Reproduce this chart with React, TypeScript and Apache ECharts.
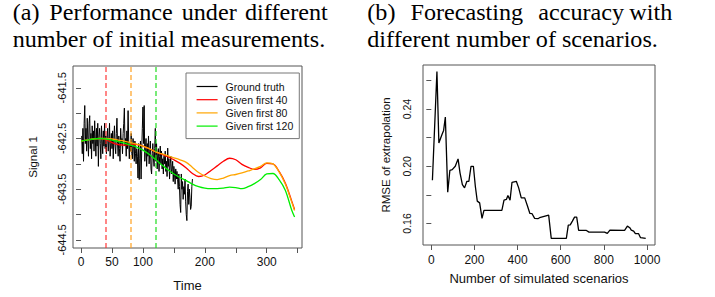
import React, { useEffect, useRef } from "react";
import * as echarts from "echarts";

const SANS = '"Liberation Sans", Arial, sans-serif';
const SERIF = '"Liberation Serif", "Times New Roman", serif';

// ---------- Panel (a) data ----------
const groundTruth = [
  -642.45, -642.8, -642.3, -642.95, -642.2, -641.85, -642.6, -642.3, -642.75, -642.1,
  -642.5, -642.85, -642.2, -642.05, -642.7, -642.4, -642.9, -642.25, -642.6, -642.35,
  -642.75, -642.15, -642.5, -642.85, -642.3, -642.65, -642.2, -643.05, -642.45, -642.3,
  -642.6, -642.9, -642.25, -642.55, -642.8, -642.35, -642.65, -642.2, -642.7, -642.45,
  -642.8, -642.5, -642.3, -642.75, -642.55, -642.2, -642.85, -642.6, -642.4, -642.7,
  -642.35, -642.9, -642.5, -642.25, -642.65, -642.8, -642.4, -642.1, -642.6, -642.85,
  -642.45, -642.7, -642.95, -642.3, -642.6, -642.5, -642.8, -642.4, -642.2, -641.9,
  -642.65, -642.5, -642.85, -642.35, -642.7, -641.95, -642.55, -642.9, -642.6, -642.75,
  -642.4, -642.8, -642.9, -642.5, -642.65, -642.95, -642.55, -642.8, -643.0, -642.7,
  -642.85, -643.28, -642.6, -643.31, -642.9, -642.55, -643.3, -642.75, -642.3, -641.88,
  -642.6, -641.85, -642.95, -642.7, -642.5, -643.05, -642.6, -642.85, -642.45, -643.0,
  -642.75, -642.55, -643.1, -643.2, -642.8, -642.6, -642.9, -643.05, -642.7, -642.3,
  -642.95, -642.6, -643.1, -642.8, -642.7, -643.15, -642.85, -642.65, -643.0, -642.75,
  -643.1, -642.9, -643.2, -642.85, -643.0, -642.75, -643.15, -642.95, -643.25, -642.69,
  -643.05, -642.9, -643.3, -643.0, -642.85, -643.2, -643.1, -642.95, -643.35, -643.05,
  -643.2, -643.4, -643.1, -643.3, -643.15, -643.31, -643.5, -643.2, -643.45, -643.8,
  -643.96, -643.2, -643.5, -643.35, -643.7, -643.45, -643.6, -643.3, -643.75, -644.0,
  -644.12, -643.55, -643.4, -643.8, -643.5, -643.67, -643.9, -643.84, -643.45, -643.3,
];

const forecastTimes = [
  0, 10, 20, 30, 40, 50, 60, 70, 80, 90, 100, 110, 120, 130, 140, 150, 160, 170,
  180, 190, 200, 210, 220, 230, 240, 250, 260, 270, 280, 290, 300, 310, 320, 330, 340, 345,
];
const given40 = [
  -642.55, -642.53, -642.51, -642.5, -642.52, -642.58, -642.62, -642.63, -642.62, -642.62,
  -642.65, -642.7, -642.76, -642.81, -642.86, -642.92, -642.99, -643.08, -643.19, -643.25,
  -643.22, -643.13, -643.04, -642.95, -642.89, -642.92, -643.01, -643.07, -643.11, -643.08,
  -642.99, -643.0, -643.15, -643.38, -643.72, -643.9,
];
const given80 = [
  -642.55, -642.53, -642.51, -642.5, -642.5, -642.51, -642.53, -642.55, -642.58, -642.61,
  -642.65, -642.7, -642.76, -642.8, -642.84, -642.88, -642.92, -642.97, -643.07, -643.17,
  -643.24, -643.29, -643.31, -643.28, -643.23, -643.21, -643.18, -643.14, -643.1, -643.05,
  -642.98, -643.0, -643.16, -643.4, -643.74, -643.92,
];
const given120 = [
  -642.55, -642.53, -642.51, -642.5, -642.51, -642.53, -642.56, -642.59, -642.63, -642.67,
  -642.73, -642.81, -642.91, -643.02, -643.11, -643.2, -643.27, -643.33, -643.4, -643.45,
  -643.48, -643.49, -643.49, -643.48, -643.46, -643.47, -643.49, -643.45, -643.39, -643.31,
  -643.2, -643.19, -643.31, -643.52, -643.9, -644.05,
];
const cutoffs = [40, 80, 120];
const seriesNames = ["Ground truth", "Given first 40", "Given first 80", "Given first 120"];
const timeTicks = [0, 50, 100, 150, 200, 250, 300, 350];
const timeLabels = [0, 50, 100, 200, 300];
const signalTicks = [-644.5, -644, -643.5, -643, -642.5, -642, -641.5];
const signalLabels = [-644.5, -643.5, -642.5, -641.5];

// ---------- Panel (b) data ----------
const scenarios = [
  5, 26, 35, 49, 57, 65, 76, 86, 97, 111, 124, 133, 144, 154, 165, 174, 184, 195, 204, 213,
  224, 235, 244, 327, 337, 348, 355, 365, 374, 394, 405, 417, 433, 445, 457, 467, 479, 494,
  502, 544, 556, 626, 635, 644, 654, 664, 674, 683, 719, 731, 803, 816, 828, 896, 909, 920,
  927, 938, 946, 961, 970, 994,
];
const rmse = [
  0.1902, 0.2663, 0.2163, 0.2221, 0.2251, 0.2345, 0.1819, 0.1972, 0.1977, 0.2, 0.2052,
  0.1954, 0.1872, 0.1849, 0.1895, 0.1895, 0.2, 0.2, 0.186, 0.1756, 0.1744, 0.1635, 0.1691,
  0.1691, 0.1763, 0.1768, 0.1795, 0.1763, 0.1888, 0.1895, 0.1849, 0.1779, 0.1779, 0.1726,
  0.167, 0.1668, 0.1635, 0.1633, 0.164, 0.1658, 0.1495, 0.1495, 0.1588, 0.159, 0.1616,
  0.1644, 0.1644, 0.1551, 0.1551, 0.1539, 0.1539, 0.153, 0.1553, 0.1551, 0.1581, 0.157,
  0.1553, 0.1546, 0.1528, 0.1528, 0.15, 0.1495,
];
const scenarioTicks = [0, 200, 400, 600, 800, 1000];
const rmseTicks = [0.16, 0.18, 0.2, 0.22, 0.24, 0.26];
const rmseLabels = [0.16, 0.2, 0.24];

const captionA = ["(a)", "Performance", "under", "different"];
const captionA2 = "number of initial measurements.";
const captionB = ["(b)", "Forecasting", "accuracy", "with"];
const captionB2 = "different number of scenarios.";

const AXIS_COLOR = "#555";
const TEXT_COLOR = "#111";

export default function App() {
  const ref = useRef<HTMLDivElement>(null);

  useEffect(() => {
    if (!ref.current) return;
    const chart = echarts.init(ref.current, null, { renderer: "svg" });

    const gt = groundTruth.map((v, i) => [i + 1, v]);
    const fc = (arr: number[]) => arr.map((v, i) => [forecastTimes[i], v]);
    const rm = rmse.map((v, i) => [scenarios[i], v]);

    const lineColors = ["#000000", "#ff0000", "#ffa500", "#00ee00"];
    const dashColors = ["rgba(255,40,40,0.75)", "rgba(255,160,30,0.8)", "rgba(30,220,30,0.8)"];

    const captionWordsA = [12.7, 49.3, 181.7, 245];
    const captionWordsB = [367.3, 410.5, 538.3, 629.3];
    const titleText = (text: string, x: number, y: number) => ({
      type: "text",
      x,
      y,
      scaleX: 1.05,
      silent: true,
      style: {
        text,
        fill: "#000",
        font: `23px ${SERIF}`,
        textAlign: "left",
        textVerticalAlign: "middle",
      },
    });

    const option: any = {
      animation: false,
      backgroundColor: "#fff",
      textStyle: { fontFamily: SANS },
      grid: [
        { left: 73, top: 66, width: 229, height: 185, show: true, borderColor: AXIS_COLOR, borderWidth: 1, containLabel: false },
        { left: 423, top: 65, width: 232, height: 180, show: true, borderColor: AXIS_COLOR, borderWidth: 1, containLabel: false },
      ],
      xAxis: [
        {
          type: "value",
          gridIndex: 0,
          min: -13,
          max: 357,
          axisLine: { show: false },
          splitLine: { show: false },
          axisTick: { show: true, length: 5, customValues: timeTicks, lineStyle: { color: AXIS_COLOR } },
          axisLabel: {
            customValues: timeLabels,
            fontSize: 12,
            color: TEXT_COLOR,
            margin: 8,
            fontFamily: SANS,
            formatter: (v: number) => String(v),
          },
          name: "Time",
          nameLocation: "middle",
          nameGap: 31,
          nameTextStyle: { fontSize: 13, color: TEXT_COLOR, fontFamily: SANS },
        },
        {
          type: "value",
          gridIndex: 1,
          min: -38.6,
          max: 1037,
          axisLine: { show: false },
          splitLine: { show: false },
          axisTick: { show: true, length: 5, customValues: scenarioTicks, lineStyle: { color: AXIS_COLOR } },
          axisLabel: {
            customValues: scenarioTicks,
            fontSize: 12,
            color: TEXT_COLOR,
            margin: 9,
            fontFamily: SANS,
            formatter: (v: number) => String(v),
          },
          name: "Number of simulated scenarios",
          nameLocation: "middle",
          nameGap: 27,
          nameTextStyle: { fontSize: 13, color: TEXT_COLOR, fontFamily: SANS },
        },
      ],
      yAxis: [
        {
          type: "value",
          gridIndex: 0,
          min: -644.66,
          max: -641.07,
          axisLine: { show: false },
          splitLine: { show: false },
          axisTick: { show: true, length: 5, customValues: signalTicks, lineStyle: { color: AXIS_COLOR } },
          axisLabel: {
            customValues: signalLabels,
            rotate: 90,
            fontSize: 11,
            color: TEXT_COLOR,
            margin: 6,
            fontFamily: SANS,
            formatter: (v: number) => v.toFixed(1),
          },
          name: "Signal 1",
          nameLocation: "middle",
          nameGap: 34,
          nameTextStyle: { fontSize: 11.5, color: TEXT_COLOR, fontFamily: SANS },
        },
        {
          type: "value",
          gridIndex: 1,
          min: 0.1449,
          max: 0.2709,
          axisLine: { show: false },
          splitLine: { show: false },
          axisTick: { show: true, length: 5, customValues: rmseTicks, lineStyle: { color: AXIS_COLOR } },
          axisLabel: {
            customValues: rmseLabels,
            rotate: 90,
            fontSize: 10.5,
            color: TEXT_COLOR,
            margin: 11,
            fontFamily: SANS,
            formatter: (v: number) => v.toFixed(2),
          },
          name: "RMSE of extrapolation",
          nameLocation: "middle",
          nameGap: 31,
          nameTextStyle: { fontSize: 11.5, color: TEXT_COLOR, fontFamily: SANS },
        },
      ],
      legend: {
        data: seriesNames,
        orient: "vertical",
        left: 186,
        top: 73,
        padding: [8, 6, 7, 10],
        itemWidth: 21,
        itemHeight: 10.5,
        itemGap: 2.2,
        borderColor: "#777",
        borderWidth: 1,
        backgroundColor: "#fff",
        itemStyle: { opacity: 0 },
        lineStyle: { width: 1.2 },
        textStyle: { fontSize: 10.5, color: TEXT_COLOR, fontFamily: SANS, padding: [0, 0, 0, 3] },
      },
      series: [
        {
          name: seriesNames[0],
          type: "line",
          xAxisIndex: 0,
          yAxisIndex: 0,
          data: gt,
          symbol: "none",
          showSymbol: false,
          lineStyle: { color: lineColors[0], width: 1 },
          itemStyle: { color: lineColors[0] },
          z: 2,
          markLine: {
            silent: true,
            symbol: ["none", "none"],
            label: { show: false },
            lineStyle: { type: [5, 3], width: 1.5 },
            data: cutoffs.map((c, i) => ({ xAxis: c, lineStyle: { color: dashColors[i], type: [5, 3], width: 1.5 } })),
          },
        },
        {
          name: seriesNames[1],
          type: "line",
          xAxisIndex: 0,
          yAxisIndex: 0,
          data: fc(given40),
          symbol: "none",
          showSymbol: false,
          smooth: 0.35,
          lineStyle: { color: lineColors[1], width: 1.3 },
          itemStyle: { color: lineColors[1] },
          z: 3,
        },
        {
          name: seriesNames[2],
          type: "line",
          xAxisIndex: 0,
          yAxisIndex: 0,
          data: fc(given80),
          symbol: "none",
          showSymbol: false,
          smooth: 0.35,
          lineStyle: { color: lineColors[2], width: 1.3 },
          itemStyle: { color: lineColors[2] },
          z: 4,
        },
        {
          name: seriesNames[3],
          type: "line",
          xAxisIndex: 0,
          yAxisIndex: 0,
          data: fc(given120),
          symbol: "none",
          showSymbol: false,
          smooth: 0.35,
          lineStyle: { color: lineColors[3], width: 1.3 },
          itemStyle: { color: lineColors[3] },
          z: 5,
        },
        {
          name: "RMSE",
          type: "line",
          xAxisIndex: 1,
          yAxisIndex: 1,
          data: rm,
          symbol: "none",
          showSymbol: false,
          lineStyle: { color: "#000", width: 1.3 },
          itemStyle: { color: "#000" },
        },
      ],
      graphic: [
        ...captionA.map((w, i) => titleText(w, captionWordsA[i], 12.2)),
        titleText(captionA2, 12.7, 39.2),
        ...captionB.map((w, i) => titleText(w, captionWordsB[i], 12.2)),
        titleText(captionB2, 367.3, 39.2),
      ],
    };

    chart.setOption(option);
    return () => chart.dispose();
  }, []);

  return (
    <div
      ref={ref}
      style={{ position: "fixed", left: 0, top: 0, width: 715, height: 297, background: "#fff" }}
    />
  );
}
